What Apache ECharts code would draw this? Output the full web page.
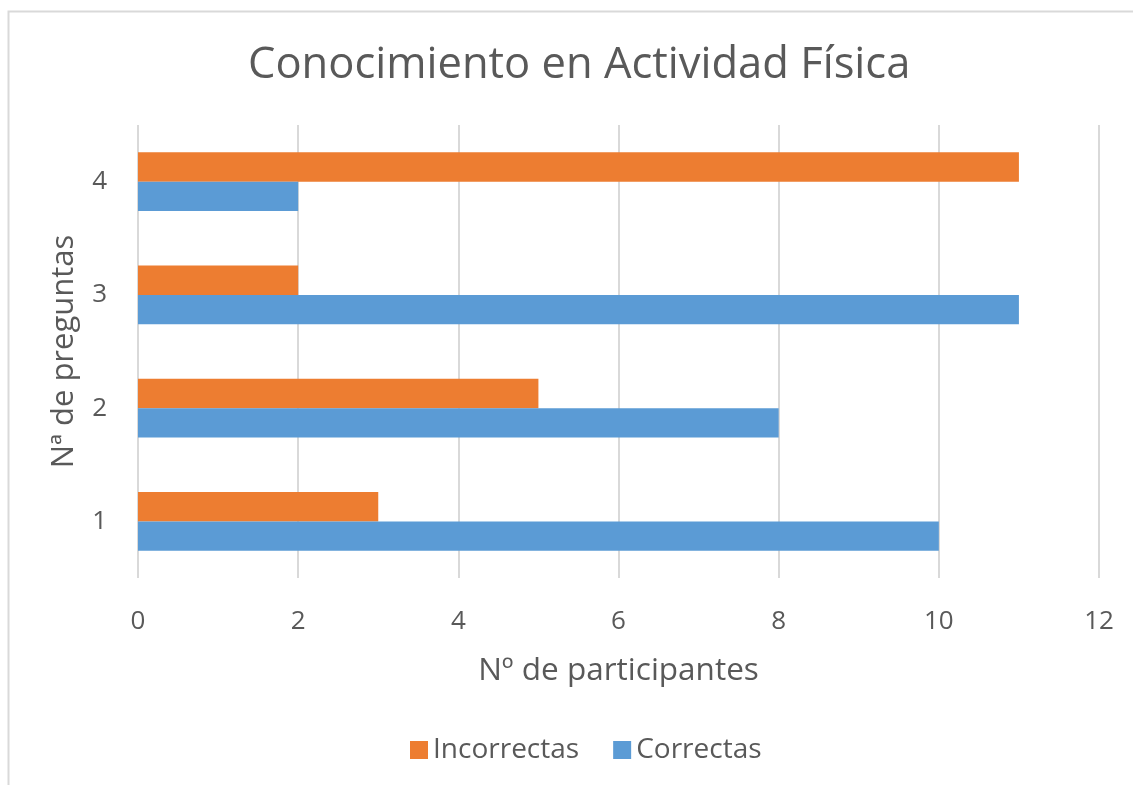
<!DOCTYPE html>
<html>
<head>
<meta charset="utf-8">
<script src="https://cdn.jsdelivr.net/npm/echarts@6/dist/echarts.min.js"></script>
<style>
  html, body { margin: 0; padding: 0; background: #fff; }
  #chart { width: 1133px; height: 785px; }
</style>
</head>
<body>
<div id="chart"></div>
<script>
// data
const preguntas = ['1', '2', '3', '4'];
const correctas = [10, 8, 11, 2];
const incorrectas = [3, 5, 2, 11];
const xTicks = { min: 0, max: 12, interval: 2 };

const textColor = '#595959';
const fontFam = '"Open Sans", "Noto Sans", sans-serif';

const chart = echarts.init(document.getElementById('chart'));

chart.setOption({
  animation: false,
  textStyle: { fontFamily: fontFam },
  title: {
    text: 'Conocimiento en Actividad Física',
    left: 243,
    top: 39,
    textStyle: { color: textColor, fontSize: 43.5, fontWeight: 'normal', fontFamily: fontFam }
  },
  // chart frame (only left and top edges are visible in the crop)
  graphic: [{
    type: 'polyline',
    shape: { points: [[8.5, 785], [8.5, 11.5], [1133, 11.5]] },
    style: { stroke: '#d9d9d9', lineWidth: 2, fill: null }
  }],
  legend: {
    data: ['Incorrectas', 'Correctas'],
    bottom: 16,
    left: 405,
    itemWidth: 18,
    itemHeight: 18,
    itemGap: 34,
    icon: 'rect',
    textStyle: { color: textColor, fontSize: 28, fontFamily: fontFam }
  },
  grid: { left: 138, right: 34, top: 125, bottom: 207, containLabel: false },
  xAxis: {
    type: 'value',
    min: xTicks.min,
    max: xTicks.max,
    interval: xTicks.interval,
    name: 'Nº de participantes',
    nameLocation: 'middle',
    nameGap: 77,
    nameTextStyle: { color: textColor, fontSize: 31.5 },
    axisLine: { show: false },
    axisTick: { show: false },
    axisLabel: { color: textColor, fontSize: 26, margin: 31 },
    splitLine: { lineStyle: { color: '#d9d9d9', width: 2 } }
  },
  yAxis: {
    type: 'category',
    data: preguntas,
    name: 'Nª de preguntas',
    nameLocation: 'middle',
    nameGap: 58,
    nameTextStyle: { color: textColor, fontSize: 31 },
    axisLine: { show: false },
    axisTick: { show: false },
    axisLabel: { color: textColor, fontSize: 26, margin: 31 }
  },
  series: [
    {
      name: 'Incorrectas',
      type: 'bar',
      data: incorrectas,
      itemStyle: { color: '#ED7D31' },
      barGap: '0%',
      barCategoryGap: '48%'
    },
    {
      name: 'Correctas',
      type: 'bar',
      data: correctas,
      itemStyle: { color: '#5B9BD5' },
      barGap: '0%',
      barCategoryGap: '48%'
    }
  ]
});
</script>
</body>
</html>
